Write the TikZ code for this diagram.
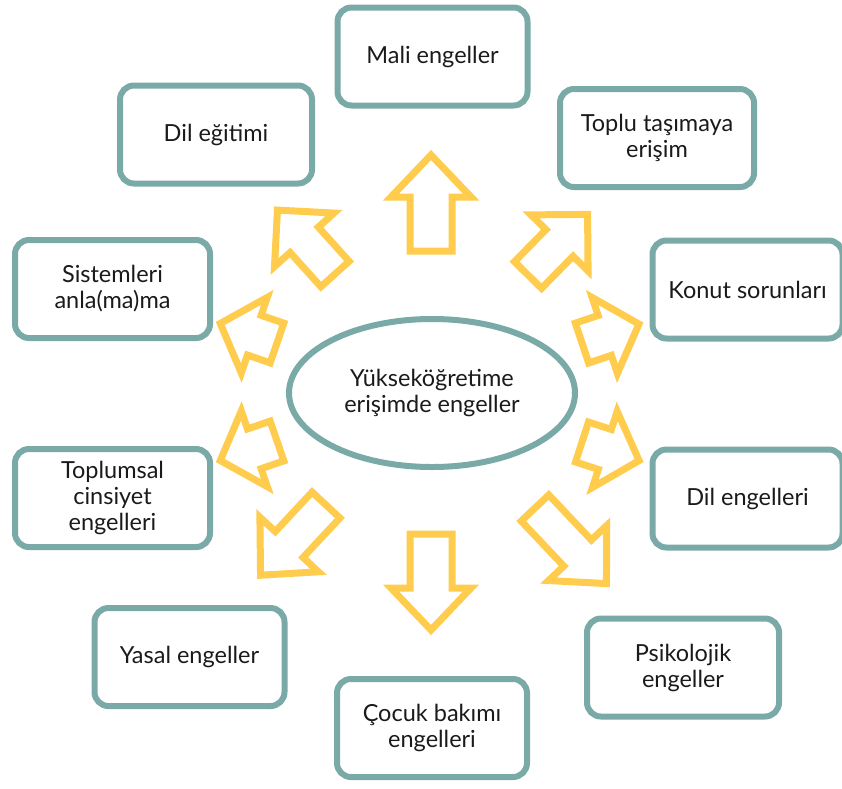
\documentclass[tikz,border=0pt]{standalone}
\usepackage{fontspec}
\setmainfont{Lato}
\usetikzlibrary{shapes.geometric}
\definecolor{boxteal}{RGB}{122,170,168}
\definecolor{arryel}{RGB}{255,204,77}
\definecolor{txtcol}{RGB}{26,26,26}
\tikzset{
  boxnode/.style={draw=boxteal, line width=6pt, rounded corners=14pt,
    minimum width=190pt, minimum height=98pt, align=center, text=txtcol,
    inner sep=0pt, font=\fontsize{23.5}{26}\selectfont},
  centernode/.style={draw=boxteal, line width=6pt, ellipse,
    minimum width=286pt, minimum height=148pt, align=center, text=txtcol,
    inner sep=0pt, font=\fontsize{23.5}{26}\selectfont},
  pics/barrow/.style n args={3}{code={
    \draw[arryel, line width=7pt, line join=miter]
      (0,-#3) -- ({#1-#2},-#3) -- ({#1-#2},-40) -- (#1,0)
      -- ({#1-#2},40) -- ({#1-#2},#3) -- (0,#3) -- cycle;
  }}
}
\begin{document}
\begin{tikzpicture}[x=1pt,y=-1pt]
\useasboundingbox (0,0) rectangle (842,788);
% centre
\node[centernode] (c) at (432,393) {Yükseköğretime\\erişimde engeller};
% boxes
\node[boxnode] (mali) at (432.5,56.5) {Mali engeller};
\node[boxnode, minimum width=194pt] (toplu) at (657,138) {Toplu taşımaya\\erişim};
\node[boxnode] (konut) at (747.5,289.5) {Konut sorunları};
\node[boxnode] (dil) at (747.5,498.5) {Dil engelleri};
\node[boxnode, minimum width=192pt] (psiko) at (683,667.5) {Psikolojik\\engeller};
\node[boxnode] (cocuk) at (432,728) {Çocuk bakımı\\engelleri};
\node[boxnode] (yasal) at (189.5,657) {Yasal engeller};
\node[boxnode, minimum width=195pt] (toplum) at (112.5,498) {Toplumsal\\cinsiyet\\engelleri};
\node[boxnode, minimum width=195pt] (sistem) at (112.5,289) {Sistemleri\\anla(ma)ma};
\node[boxnode, minimum width=192pt] (dilegit) at (216,134.5) {Dil eğitimi};
% block arrows
\pic[rotate=90]   at (431,251) {barrow={96}{42}{21}};
\pic[rotate=-90]  at (431,534) {barrow={96}{42}{21}};
\pic[rotate=132]  at (335,274) {barrow={86}{40}{19}};
\pic[rotate=45.5] at (528,275) {barrow={85}{40}{19}};
\pic[rotate=161]  at (277,343) {barrow={60}{36}{21}};
\pic[rotate=18.4] at (582,343) {barrow={60}{36}{21}};
\pic[rotate=199]  at (277,441) {barrow={60}{36}{21}};
\pic[rotate=-18]  at (582,442) {barrow={60}{36}{21}};
\pic[rotate=227]  at (326,505) {barrow={96}{42}{19}};
\pic[rotate=-46.6] at (535,508) {barrow={104}{42}{19}};
\end{tikzpicture}
\end{document}
